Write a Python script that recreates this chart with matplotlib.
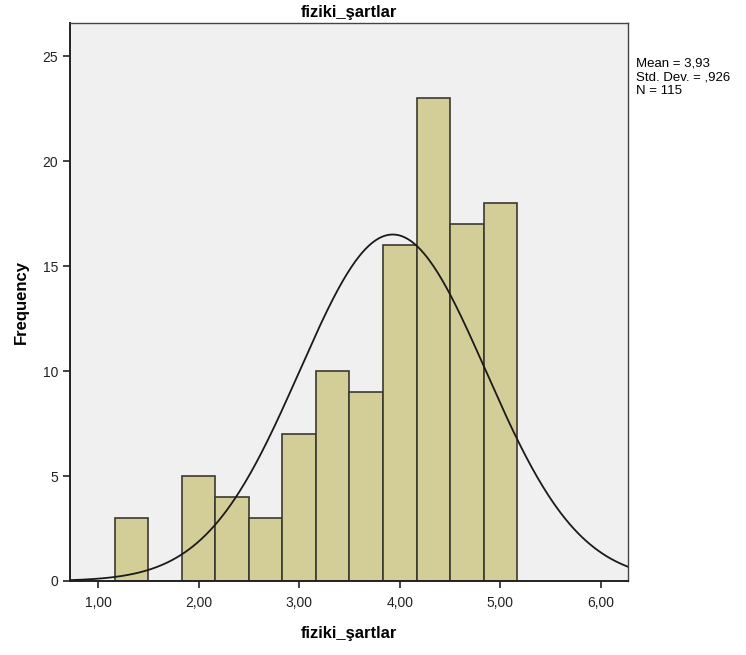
"""
Histogram of fiziki_şartlar with normal curve (SPSS style)
"""

import numpy as np
import matplotlib
matplotlib.use("Agg")
import matplotlib.pyplot as plt

plt.rcParams["font.family"] = ["Liberation Sans", "DejaVu Sans"]

# bin edges and counts
bin_edges = [7 / 6 + k / 3 for k in range(13)]
counts = [3, 0, 5, 4, 3, 7, 10, 9, 16, 23, 17, 18]

mean = 3.93
std = 0.926
n = 115

x_ticks = [1, 2, 3, 4, 5, 6]
x_tick_labels = ["1,00", "2,00", "3,00", "4,00", "5,00", "6,00"]
y_ticks = [0, 5, 10, 15, 20, 25]


def main():
    fig = plt.figure(figsize=(7.46, 6.55), dpi=100)
    ax = fig.add_axes([0.0938, 0.113, 0.748, 0.852])
    ax.set_facecolor("#F0F0F0")

    widths = np.diff(bin_edges)
    ax.bar(bin_edges[:-1], counts, width=widths, align="edge",
           color="#D3CE97", edgecolor="#3a3a30", linewidth=1.2, zorder=2)

    # fitted normal curve scaled to bin width
    bw = widths[0]
    xs = np.linspace(0.72, 6.27, 400)
    ys = n * bw / (std * np.sqrt(2 * np.pi)) * np.exp(-0.5 * ((xs - mean) / std) ** 2)
    ax.plot(xs, ys, color="#1a1a1a", linewidth=1.3, zorder=3)

    ax.set_xlim(0.72, 6.27)
    ax.set_ylim(0, 26.6)
    ax.set_xticks(x_ticks)
    ax.set_xticklabels(x_tick_labels)
    ax.set_yticks(y_ticks)
    ax.tick_params(axis="both", direction="out", length=5, width=1.2,
                   labelsize=10, colors="#222222")
    ax.tick_params(axis="x", pad=6)

    for sp in ax.spines.values():
        sp.set_color("#444444")
        sp.set_linewidth(1.0)
    ax.spines["left"].set_color("#222222")
    ax.spines["bottom"].set_color("#222222")
    ax.spines["left"].set_linewidth(1.4)
    ax.spines["bottom"].set_linewidth(1.4)

    ax.set_title("fiziki_şartlar", fontsize=12, fontweight="bold", pad=4)
    ax.set_xlabel("fiziki_şartlar", fontsize=12, fontweight="bold", labelpad=11)
    ax.set_ylabel("Frequency", fontsize=12, fontweight="bold", labelpad=10)

    fig.text(0.853, 0.912, "Mean = 3,93\nStd. Dev. = ,926\nN = 115",
             fontsize=9.5, va="top", ha="left", linespacing=1.2)

    fig.savefig("out.png", dpi=100)
    return 0


if __name__ == '__main__':
    main()
